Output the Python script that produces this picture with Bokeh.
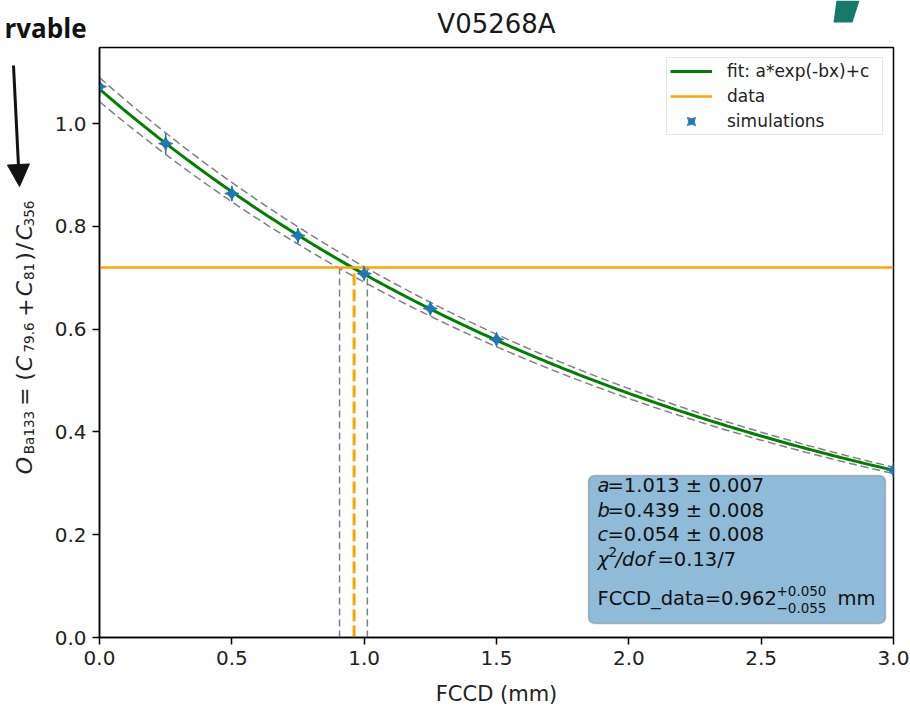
import numpy as np
from bokeh.plotting import figure
from bokeh.layouts import column, row
from bokeh.models import (Label, BoxAnnotation, Arrow, NormalHead, PolyAnnotation,
                          FixedTicker, NumeralTickFormatter, Range1d)
from bokeh.embed import file_html
from bokeh.resources import INLINE

# ---------------- data ----------------
title_text = "V05268A"
x_label_text = "FCCD (mm)"
x_ticks = [0.0, 0.5, 1.0, 1.5, 2.0, 2.5, 3.0]
y_ticks = [0.0, 0.2, 0.4, 0.6, 0.8, 1.0]

sim_x = [0.0, 0.25, 0.5, 0.75, 1.0, 1.25, 1.5, 3.0]
sim_y = [1.072, 0.961, 0.864, 0.782, 0.708, 0.640, 0.580, 0.326]
sim_yerr = [0.020, 0.020, 0.015, 0.015, 0.012, 0.010, 0.010, 0.008]

fit_a, fit_b, fit_c = 1.013, 0.439, 0.054
data_value = 0.72
fccd = 0.962
fccd_err_up = 0.050
fccd_err_dn = 0.055

X0, X1 = 0.0, 3.0
Y0, Y1 = 0.0, 1.148

# ---------------- layout (image pixels) ----------------
TOTAL_W, TOTAL_H = 910, 707
TOP_H = 45
LEFT_W = 50
BOT_H = 28
FL, FR, FT, FB = 99, 893, 47, 637     # plot frame edges in image px
MAIN_W = TOTAL_W - LEFT_W
MAIN_H = TOTAL_H - TOP_H - BOT_H
B_TOP = FT - TOP_H
B_BOT = TOP_H + MAIN_H - FB

FONT = "DejaVu Sans"


def ix(px):
    return X0 + (px - FL) / (FR - FL) * (X1 - X0)


def iy(py):
    return Y0 + (FB - py) / (FB - FT) * (Y1 - Y0)


def strip(w, h, y_top, y_bot, b_top=0, b_bot=0):
    f = figure(width=w, height=h, x_range=Range1d(0, w), y_range=Range1d(y_bot, y_top),
               title=None, output_backend="svg", toolbar_location=None,
               x_axis_type=None, y_axis_type=None, min_border_left=0,
               min_border_right=0, min_border_top=b_top, min_border_bottom=b_bot)
    f.outline_line_color = None
    f.background_fill_color = "white"
    f.border_fill_color = "white"
    return f


def add_text(fig, text, x, y, size, italic=False, bold=False, align="left",
             baseline="middle", angle=0.0, font=FONT, color="#111111"):
    style = "bold" if bold else ("italic" if italic else "normal")
    fig.add_layout(Label(x=x, y=y, text=text, text_font=font,
                         text_font_size=f"{size}px", text_font_style=style,
                         text_align=align, text_baseline=baseline, angle=angle,
                         text_color=color))


# ---------------- main plot ----------------
p = figure(width=MAIN_W, height=MAIN_H, x_range=(X0, X1), y_range=(Y0, Y1),
           title=None, output_backend="svg", toolbar_location=None,
           min_border_left=FL - LEFT_W, min_border_right=TOTAL_W - FR,
           min_border_top=B_TOP, min_border_bottom=B_BOT)

p.background_fill_color = "white"
p.border_fill_color = "white"
p.outline_line_color = "black"
p.outline_line_width = 1.5
p.xgrid.grid_line_color = None
p.ygrid.grid_line_color = None

p.xaxis.ticker = FixedTicker(ticks=x_ticks)
p.yaxis.ticker = FixedTicker(ticks=y_ticks)
p.axis.formatter = NumeralTickFormatter(format="0.0")
p.axis.major_label_text_font = FONT
p.axis.major_label_text_font_size = "20px"
p.axis.major_label_text_color = "#222222"
p.axis.major_tick_out = 7
p.axis.major_tick_in = 0
p.axis.minor_tick_line_color = None
p.axis.axis_line_color = "black"
p.axis.axis_line_width = 1.5
p.axis.major_tick_line_width = 1.5
p.axis.major_label_standoff = 6

xs = np.linspace(X0, X1, 301)


def model(x):
    return fit_a * np.exp(-fit_b * x) + fit_c


fit_y = model(xs)
upper_y = model(xs - fccd_err_up)
lower_y = model(xs + fccd_err_dn)

p.line(xs, upper_y, line_color="gray", line_width=1.5, line_dash="8 4")
p.line(xs, lower_y, line_color="gray", line_width=1.5, line_dash="8 4")

p.line([fccd - fccd_err_dn] * 2, [0, data_value], line_color="gray",
       line_width=1.5, line_dash="7 4")
p.line([fccd + fccd_err_up] * 2, [0, data_value], line_color="gray",
       line_width=1.5, line_dash="7 4")
p.line([fccd] * 2, [0, data_value], line_color="orange",
       line_width=3, line_dash="12 4")

p.line(xs, fit_y, line_color="green", line_width=3, legend_label="fit: a*exp(-bx)+c")
p.line([X0, X1], [data_value] * 2, line_color="orange", line_width=2.5,
       legend_label="data")

p.segment(x0=sim_x, x1=sim_x,
          y0=[y - e for y, e in zip(sim_y, sim_yerr)],
          y1=[y + e for y, e in zip(sim_y, sim_yerr)],
          line_color="#1f77b4", line_width=1.5)
p.scatter(sim_x, sim_y, marker="square_pin", angle=np.pi / 4, size=10,
          fill_color="#1f77b4", line_color="#1f77b4", legend_label="simulations")

lg = p.legend[0]
lg.location = "top_right"
lg.margin = 10
lg.padding = 3
lg.spacing = 5
lg.glyph_width = 42
lg.glyph_height = 20
lg.label_standoff = 15
lg.label_width = 152
lg.label_text_font = FONT
lg.label_text_font_size = "17px"
lg.label_text_color = "#222222"
lg.border_line_color = "#cccccc"
lg.border_line_width = 1
lg.background_fill_alpha = 0.8

# stats box
p.add_layout(BoxAnnotation(left=ix(588), right=ix(885), top=iy(475), bottom=iy(623),
                           fill_color="#8fbbd9", fill_alpha=1.0,
                           line_color="#4d4d4d", line_width=1.5, border_radius=6))

STAT = 19.5
stat_lines = [
    ("a", "=1.013 ± 0.007", 485),
    ("b", "=0.439 ± 0.008", 510),
    ("c", "=0.054 ± 0.008", 534),
]
for var, rest, py in stat_lines:
    add_text(p, var, ix(597), iy(py), STAT, italic=True)
    add_text(p, rest, ix(607), iy(py), STAT)

add_text(p, "χ", ix(597), iy(559), STAT, italic=True)
add_text(p, "2", ix(608), iy(551), 13.5)
add_text(p, "/dof", ix(615), iy(559), STAT, italic=True)
add_text(p, "=0.13/7", ix(657), iy(559), STAT)

add_text(p, "FCCD_data=0.962", ix(597), iy(598), STAT)
add_text(p, "+0.050", ix(776), iy(590), 13.5)
add_text(p, "−0.055", ix(776), iy(607), 13.5)
add_text(p, "mm", ix(837), iy(598), STAT)

# ---------------- top strip: title and slide fragments ----------------
top = strip(TOTAL_W, TOP_H, 0, TOP_H)
add_text(top, title_text, (FL + FR) / 2, 23, 26, align="center", color="#1a1a1a")
add_text(top, "rvable", 86, 27, 26, bold=True, align="right",
         font="Open Sans", color="#111111")
top.add_layout(PolyAnnotation(xs=[836, 859, 852, 833], ys=[0, 0, 22, 22],
                              fill_color="#177a68", fill_alpha=1.0, line_alpha=0.0))

# ---------------- left strip: y label and arrow (image y coordinates) ----------------
left = strip(LEFT_W, MAIN_H, FT, FB, b_top=B_TOP, b_bot=B_BOT)
SUB = 13.5
# (text, centre image-y, size, italic, subscript)
ylabel_pieces = [
    ("O", 465, 22, True, False),
    ("Ba133", 432, SUB, False, True),
    ("=", 396, 22, False, False),
    ("(", 376, 22, False, False),
    ("C", 363, 22, True, False),
    ("79.6", 337, SUB, False, True),
    ("+", 307, 22, False, False),
    ("C", 288, 22, True, False),
    ("81", 271, SUB, False, True),
    (")", 256, 22, False, False),
    ("/", 246, 22, False, False),
    ("C", 232, 22, True, False),
    ("356", 213, SUB, False, True),
]
for txt, py, size, ital, sub in ylabel_pieces:
    add_text(left, txt, 28 if sub else 24, py, size, italic=ital,
             align="center", baseline="middle", angle=np.pi / 2, color="#222222")

left.add_layout(Arrow(end=NormalHead(size=22, fill_color="#111111", line_color="#111111"),
                      x_start=13, y_start=65, x_end=19, y_end=186,
                      line_width=3, line_color="#111111"))

# ---------------- bottom strip: x label ----------------
bot0 = TOP_H + MAIN_H
bottom = strip(TOTAL_W, BOT_H, bot0, TOTAL_H)
add_text(bottom, x_label_text, (FL + FR) / 2, 693, 21, align="center", color="#222222")

layout = column(top, row(left, p), bottom)
open("out.html", "w").write(file_html(layout, INLINE))
